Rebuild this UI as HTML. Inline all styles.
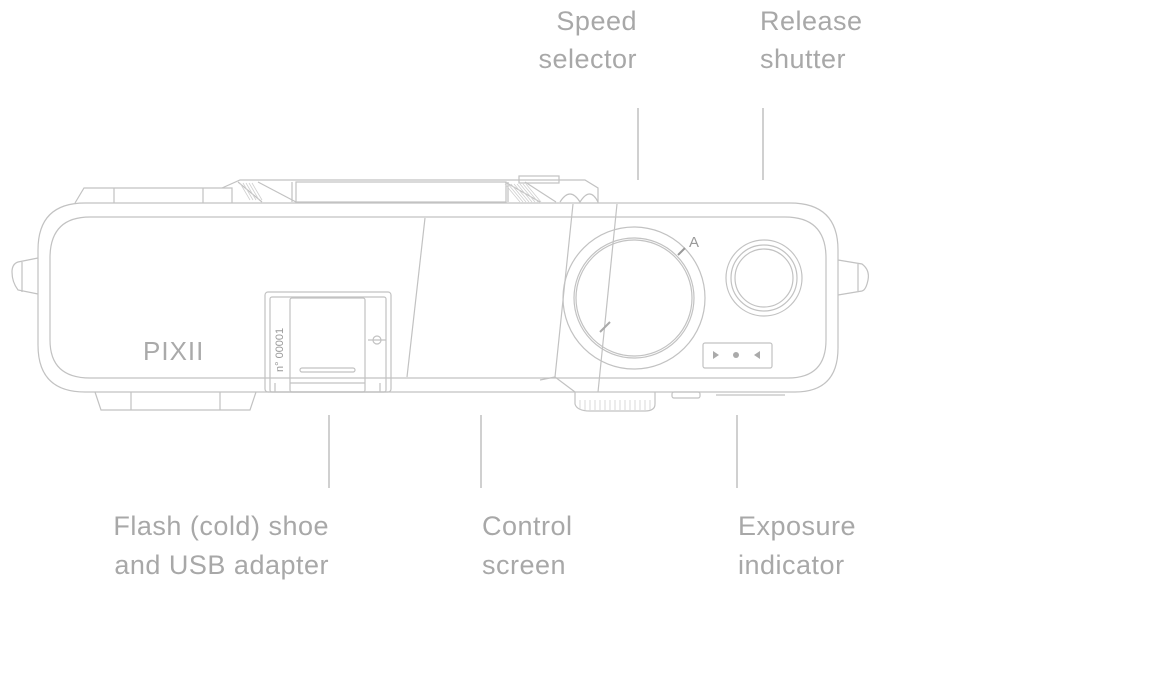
<!DOCTYPE html>
<html><head><meta charset="utf-8"><style>
html,body{margin:0;padding:0;background:#fff;width:1166px;height:680px;overflow:hidden}
svg{display:block}
.l{font-family:"Liberation Sans",sans-serif;font-size:27px;fill:#a8a8a8;letter-spacing:0.5px}
</style></head><body>
<svg width="1166" height="680" viewBox="0 0 1166 680" xmlns="http://www.w3.org/2000/svg">
<g fill="none" stroke="#c2c2c2" stroke-width="1.2">
<path d="M75 203 L84 188 L232 188 L232 203"/>
<line x1="114" y1="188" x2="114" y2="203"/>
<line x1="203" y1="188" x2="203" y2="203"/>
<path d="M222 188 L240 180 L585 180 L598 188 L598 203"/>
<rect x="296" y="182" width="210" height="20"/>
<line x1="292" y1="182" x2="292" y2="202"/>
<line x1="508" y1="182" x2="508" y2="202"/>
<path d="M238 182 L262 202 M258 182 L296 202 M505 182 L540 202 M525 182 L556 202"/>
<g stroke="#d0d0d0" stroke-width="0.8">
<path d="M240 183 L250 200 M243 183 L253 200 M246 183 L256 200 M249 183 L259 200 M252 183 L262 200"/>
<path d="M505 184 L520 202 M508 184 L523 202 M511 184 L526 202 M514 184 L529 202 M517 184 L532 202 M520 184 L535 202 M523 184 L538 202 M526 184 L541 202"/>
</g>
<rect x="519" y="176" width="40" height="7"/>
<path d="M560 202 Q570 186 580 202 Q590 186 598 202"/>
<path d="M85 203 L790 203 Q838 203 838 250 L838 348 Q838 392 795 392 L85 392 Q38 392 38 345 L38 250 Q38 203 85 203 Z"/>
<path d="M90 217 L785 217 Q826 217 826 258 L826 340 Q826 378 788 378 L90 378 Q50 378 50 340 L50 258 Q50 217 90 217 Z"/>
<line x1="425" y1="218" x2="407" y2="377"/>
<path d="M573 204 L555 377 L575 392"/>
<path d="M617 204 L598 392"/>
<path d="M555 377 L540 380"/>
<path d="M38 258 L18 262 Q12 264 12 272 Q12 282 18 290 L38 294"/>
<line x1="22" y1="262" x2="22" y2="292"/>
<path d="M838 260 L862 264 Q870 270 868 280 Q866 290 862 291 L838 295"/>
<line x1="858" y1="264" x2="858" y2="291"/>
<path d="M95 392 L101 410 L250 410 L256 392"/>
<line x1="131" y1="392" x2="131" y2="410"/>
<line x1="220" y1="392" x2="220" y2="410"/>
<path d="M575 392 L575 404 Q577 411 590 411 L645 411 Q655 411 655 404 L655 392"/>
<g stroke="#d0d0d0" stroke-width="0.8"><path d="M580 400 V410 M585 400 V410 M590 400 V410 M595 400 V410 M600 400 V410 M605 400 V410 M610 400 V410 M615 400 V410 M620 400 V410 M625 400 V410 M630 400 V410 M635 400 V410 M640 400 V410 M645 400 V410 M650 400 V410"/></g>
<rect x="672" y="392" width="28" height="6" rx="2"/>
<line x1="716" y1="395" x2="785" y2="395"/>
<rect x="265" y="292" width="126" height="100" rx="3"/>
<rect x="270" y="297" width="116" height="95" rx="2"/>
<rect x="290" y="298" width="75" height="94" rx="2"/>
<rect x="300" y="368" width="55" height="4" rx="2"/>
<line x1="290" y1="383" x2="365" y2="383"/>
<line x1="275" y1="383" x2="275" y2="392"/>
<line x1="380" y1="383" x2="380" y2="392"/>
<circle cx="377" cy="340" r="4"/>
<line x1="368" y1="340" x2="386" y2="340"/>
<circle cx="634" cy="298" r="71"/>
<circle cx="634" cy="298" r="60"/>
<circle cx="634" cy="298" r="58"/>
<line x1="678" y1="255" x2="685" y2="248" stroke="#999" stroke-width="2"/>
<line x1="600" y1="332" x2="610" y2="322" stroke="#aaa" stroke-width="2"/>
<circle cx="764" cy="278" r="38"/>
<circle cx="764" cy="278" r="33"/>
<circle cx="764" cy="278" r="29"/>
<rect x="703" y="343" width="69" height="25" rx="2"/>
</g>
<path d="M713 351 L719 355 L713 359 Z" fill="#aaa"/>
<circle cx="736" cy="355" r="3" fill="#aaa"/>
<path d="M760 351 L754 355 L760 359 Z" fill="#aaa"/>
<text x="689" y="247" font-family="Liberation Sans,sans-serif" font-size="15" fill="#999">A</text>
<text x="143" y="360" font-family="Liberation Sans,sans-serif" font-size="26" fill="#aaa" letter-spacing="1">PIXII</text>
<text transform="translate(283,372) rotate(-90)" font-family="Liberation Sans,sans-serif" font-size="11" fill="#999">n°  00001</text>
<g stroke="#b0b0b0" stroke-width="1.2">
<line x1="638" y1="108" x2="638" y2="180"/>
<line x1="763" y1="108" x2="763" y2="180"/>
<line x1="329" y1="415" x2="329" y2="488"/>
<line x1="481" y1="415" x2="481" y2="488"/>
<line x1="737" y1="415" x2="737" y2="488"/>
</g>
<text class="l" x="637" y="30" text-anchor="end">Speed</text>
<text class="l" x="637" y="68" text-anchor="end">selector</text>
<text class="l" x="760" y="30">Release</text>
<text class="l" x="760" y="68">shutter</text>
<text class="l" x="329" y="535" text-anchor="end">Flash (cold) shoe</text>
<text class="l" x="329" y="574" text-anchor="end">and USB adapter</text>
<text class="l" x="482" y="535">Control</text>
<text class="l" x="482" y="574">screen</text>
<text class="l" x="738" y="535">Exposure</text>
<text class="l" x="738" y="574">indicator</text>
</svg>
</body></html>
